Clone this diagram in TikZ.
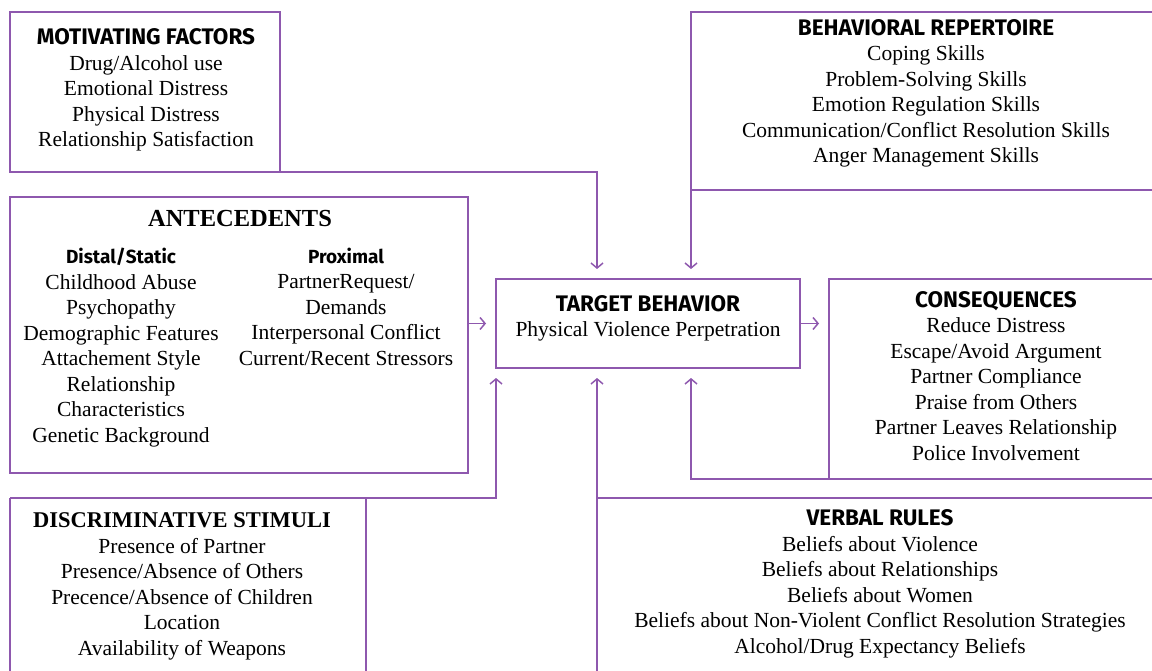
\documentclass[tikz,border=0pt]{standalone}
\usepackage{fontspec}
\setmainfont{Liberation Serif}
\newfontfamily\headsans{Fira Sans}
\usetikzlibrary{arrows.meta,positioning}

\definecolor{vio}{RGB}{142,88,174}
\newcommand{\sanshead}[1]{{\headsans\bfseries\fontsize{22.5}{25.5}\selectfont #1}}
\newcommand{\serifhead}[2]{{\bfseries\fontsize{#1}{25.5}\selectfont #2}}
\newcommand{\subhead}[1]{{\headsans\bfseries\fontsize{19}{25.5}\selectfont #1}}

\tikzset{
	>={Straight Barb[length=5pt,width=12pt]},
	frame/.style={draw=vio, line width=1.5pt},
	link/.style={draw=vio, line width=1.5pt, ->, shorten >=10pt},
	boxarea/.style={inner sep=0pt, outer sep=0pt},
	txt/.style={
			anchor=base,
			align=center,
			inner sep=0pt,
			font=\fontsize{21.5}{25.5}\selectfont,
		}
}

\begin{document}
\begin{tikzpicture}[x=1pt,y=-1pt]
		\useasboundingbox (0,0) rectangle (1152,671);

		% areas of the boxes
		\node[boxarea, minimum width=270pt, minimum height=160pt] (mot) at (145,92) {};
		\node[boxarea, minimum width=461pt, minimum height=178pt] (beh) at (921.5,101) {};
		\node[boxarea, minimum width=458pt, minimum height=276pt] (ant) at (239,335) {};
		\node[boxarea, minimum width=304pt, minimum height=89pt] (tb) at (648,323.5) {};
		\node[boxarea, minimum width=323pt, minimum height=200pt] (cons) at (990.5,379) {};
		\node[boxarea, minimum width=356pt, minimum height=173pt] (disc) at (188,584.5) {};
		\node[boxarea, minimum width=555pt, minimum height=173pt] (vr) at (874.5,584.5) {};

		% frames
		\draw[frame] (mot.north west) rectangle (mot.south east);
		\draw[frame] (ant.north west) rectangle (ant.south east);
		\draw[frame] (tb.north west) rectangle (tb.south east);
		\draw[frame] (beh.north east) -- (beh.north west) -- (beh.south west) -- (beh.south east);
		\draw[frame] (cons.north east) -- (cons.north west) -- (cons.south west);
		\draw[frame] (disc.south west) -- (disc.north west);
		\draw[frame] (disc.north east) -- (disc.south east);
		\draw[frame] (vr.north east) -- (vr.north west);

		% connectors
		\draw[link] (mot.south east) -| (tb.north -| vr.west);
		\draw[link] (beh.south west) -- (tb.north -| beh.west);
		\draw[link] (tb.west -| ant.east) -- (tb.west);
		\draw[link] (tb.east) -- (tb.east -| cons.west);
		\draw[link] (disc.north west) -- (disc.north -| tb.west) -- (tb.south west);
		\draw[link] (vr.south west) -- (tb.south -| vr.west);
		\draw[link] (cons.south east) -- (cons.south -| beh.west) -- (tb.south -| beh.west);

		% texts (placed at the baseline of their last line)
		\node[txt] (motT) at (146,147) {\sanshead{MOTIVATING FACTORS}\\
			Drug/Alcohol use\\ Emotional Distress\\ Physical Distress\\
			Relationship Satisfaction};
		\node[txt] (behT) at (926,163) {\sanshead{BEHAVIORAL REPERTOIRE}\\
			Coping Skills\\ Problem-Solving Skills\\ Emotion Regulation Skills\\
			Communication/Conflict Resolution Skills\\ Anger Management Skills};
		\node[txt] (antT) at (240,227) {\serifhead{24.5}{ANTECEDENTS}};
		\node[txt] (distal) at (121,442) {\subhead{Distal/Static}\\
			Childhood Abuse\\ Psychopathy\\ Demographic Features\\
			Attachement Style\\ Relationship\\ Characteristics\\ Genetic Background};
		\node[txt] (prox) at (346,365) {\subhead{Proximal}\\
			PartnerRequest/\\ Demands\\ Interpersonal Conflict\\
			Current/Recent Stressors};
		\node[txt] (tbT) at (648,337) {\sanshead{TARGET BEHAVIOR}\\
			Physical Violence Perpetration};
		\node[txt] (consT) at (996,460) {\sanshead{CONSEQUENCES}\\
			Reduce Distress\\ Escape/Avoid Argument\\ Partner Compliance\\
			Praise from Others\\ Partner Leaves Relationship\\ Police Involvement};
		\node[txt] (discT) at (182,655) {\serifhead{22.5}{DISCRIMINATIVE STIMULI}\\
			Presence of Partner\\ Presence/Absence of Others\\
			Precence/Absence of Children\\ Location\\ Availability of Weapons};
		\node[txt] (vrT) at (880,653) {\sanshead{VERBAL RULES}\\
			Beliefs about Violence\\ Beliefs about Relationships\\
			Beliefs about Women\\
			Beliefs about Non-Violent Conflict Resolution Strategies\\
			Alcohol/Drug Expectancy Beliefs};
	\end{tikzpicture}
\end{document}
